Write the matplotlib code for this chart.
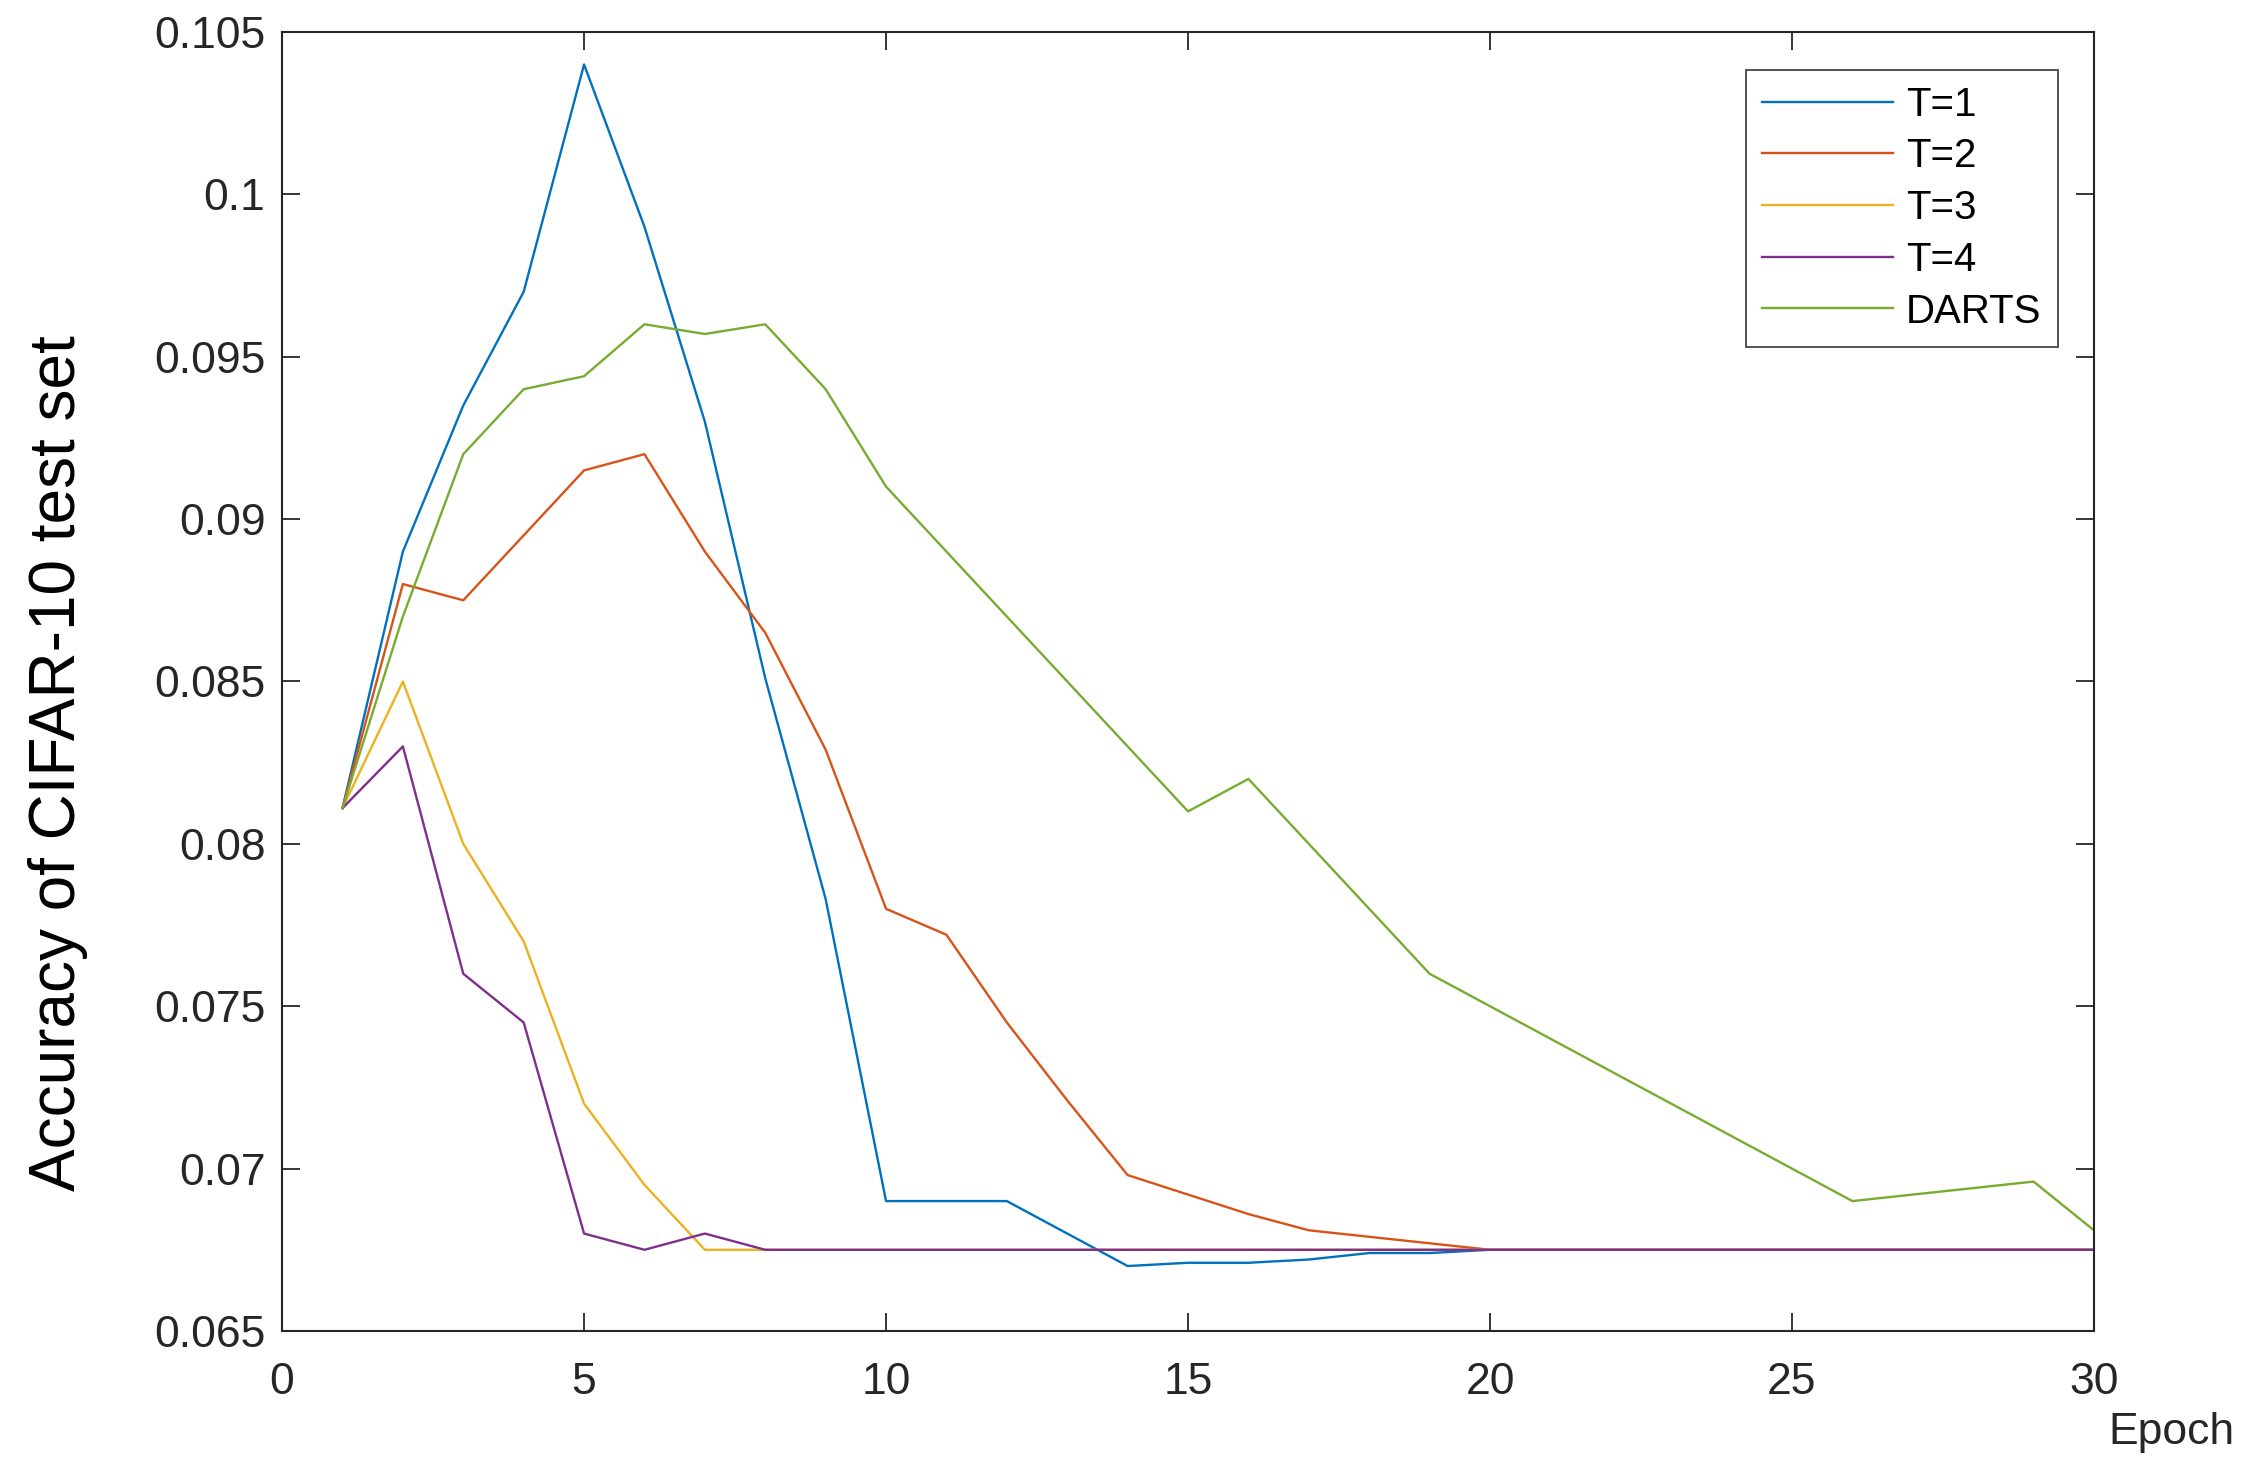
import numpy as np
import matplotlib
matplotlib.use("Agg")
import matplotlib.pyplot as plt

# ── data ──────────────────────────────────────────────────────────────────
epochs = list(range(1, 31))

acc_t1 = [0.0811, 0.0890, 0.0935, 0.0970, 0.1040, 0.0990, 0.0930, 0.0851, 0.0783, 0.0690,
          0.0690, 0.0690, 0.0680, 0.0670, 0.0671, 0.0671, 0.0672, 0.0674, 0.0674, 0.0675,
          0.0675, 0.0675, 0.0675, 0.0675, 0.0675, 0.0675, 0.0675, 0.0675, 0.0675, 0.0675]
acc_t2 = [0.0811, 0.0880, 0.0875, 0.0895, 0.0915, 0.0920, 0.0890, 0.0865, 0.0829, 0.0780,
          0.0772, 0.0745, 0.0721, 0.0698, 0.0692, 0.0686, 0.0681, 0.0679, 0.0677, 0.0675,
          0.0675, 0.0675, 0.0675, 0.0675, 0.0675, 0.0675, 0.0675, 0.0675, 0.0675, 0.0675]
acc_t3 = [0.0811, 0.0850, 0.0800, 0.0770, 0.0720, 0.0695, 0.0675, 0.0675, 0.0675, 0.0675,
          0.0675, 0.0675, 0.0675, 0.0675, 0.0675, 0.0675, 0.0675, 0.0675, 0.0675, 0.0675,
          0.0675, 0.0675, 0.0675, 0.0675, 0.0675, 0.0675, 0.0675, 0.0675, 0.0675, 0.0675]
acc_t4 = [0.0811, 0.0830, 0.0760, 0.0745, 0.0680, 0.0675, 0.0680, 0.0675, 0.0675, 0.0675,
          0.0675, 0.0675, 0.0675, 0.0675, 0.0675, 0.0675, 0.0675, 0.0675, 0.0675, 0.0675,
          0.0675, 0.0675, 0.0675, 0.0675, 0.0675, 0.0675, 0.0675, 0.0675, 0.0675, 0.0675]
acc_darts = [0.0811, 0.0870, 0.0920, 0.0940, 0.0944, 0.0960, 0.0957, 0.0960, 0.0940, 0.0910,
             0.0890, 0.0870, 0.0850, 0.0830, 0.0810, 0.0820, 0.0800, 0.0780, 0.0760, 0.0750,
             0.0740, 0.0730, 0.0720, 0.0710, 0.0700, 0.0690, 0.0692, 0.0694, 0.0696, 0.0681]

labels = ["T=1", "T=2", "T=3", "T=4", "DARTS"]
colors = ["#0072BD", "#D95319", "#EDB120", "#7E2F8E", "#77AC30"]

x_ticks = [0, 5, 10, 15, 20, 25, 30]
y_ticks = [0.065, 0.07, 0.075, 0.08, 0.085, 0.09, 0.095, 0.1, 0.105]
y_ticklabels = ["0.065", "0.07", "0.075", "0.08", "0.085", "0.09", "0.095", "0.1", "0.105"]

# ── plot ──────────────────────────────────────────────────────────────────
plt.rcParams["font.family"] = ["Liberation Sans", "DejaVu Sans"]
AX_COL = "#262626"

fig = plt.figure(figsize=(22.64, 14.81), dpi=100)
ax = fig.add_axes([0.1246, 0.1013, 0.8003, 0.8771])

for ys, lab, col in zip([acc_t1, acc_t2, acc_t3, acc_t4, acc_darts], labels, colors):
    ax.plot(epochs, ys, color=col, lw=1.7, label=lab)

ax.set_xlim(0, 30)
ax.set_ylim(0.065, 0.105)
ax.set_xticks(x_ticks)
ax.set_yticks(y_ticks)
ax.set_yticklabels(y_ticklabels)

ax.tick_params(direction="in", length=13, width=1.3, colors=AX_COL,
               labelsize=32, top=True, right=True, pad=12)
ax.tick_params(axis="x", pad=22)
for s in ax.spines.values():
    s.set_color(AX_COL)
    s.set_linewidth(1.5)

ax.set_ylabel("Accuracy of CIFAR-10 test set", fontsize=46,
              color="black", va="center")
ax.yaxis.set_label_coords(-0.1235, 0.437)
ax.set_xlabel("Epoch", fontsize=32, color=AX_COL, ha="left", va="center")
ax.xaxis.set_label_coords(1.008, -0.078)

leg = ax.legend(loc="upper right", bbox_to_anchor=(0.980, 0.971), borderaxespad=0,
                fontsize=29, handlelength=3.25, handletextpad=0.32, labelspacing=0.34,
                fancybox=False, frameon=True, borderpad=0.4)
leg.get_frame().set_edgecolor(AX_COL)
leg.get_frame().set_linewidth(1.4)

fig.savefig("out.png", dpi=100)
